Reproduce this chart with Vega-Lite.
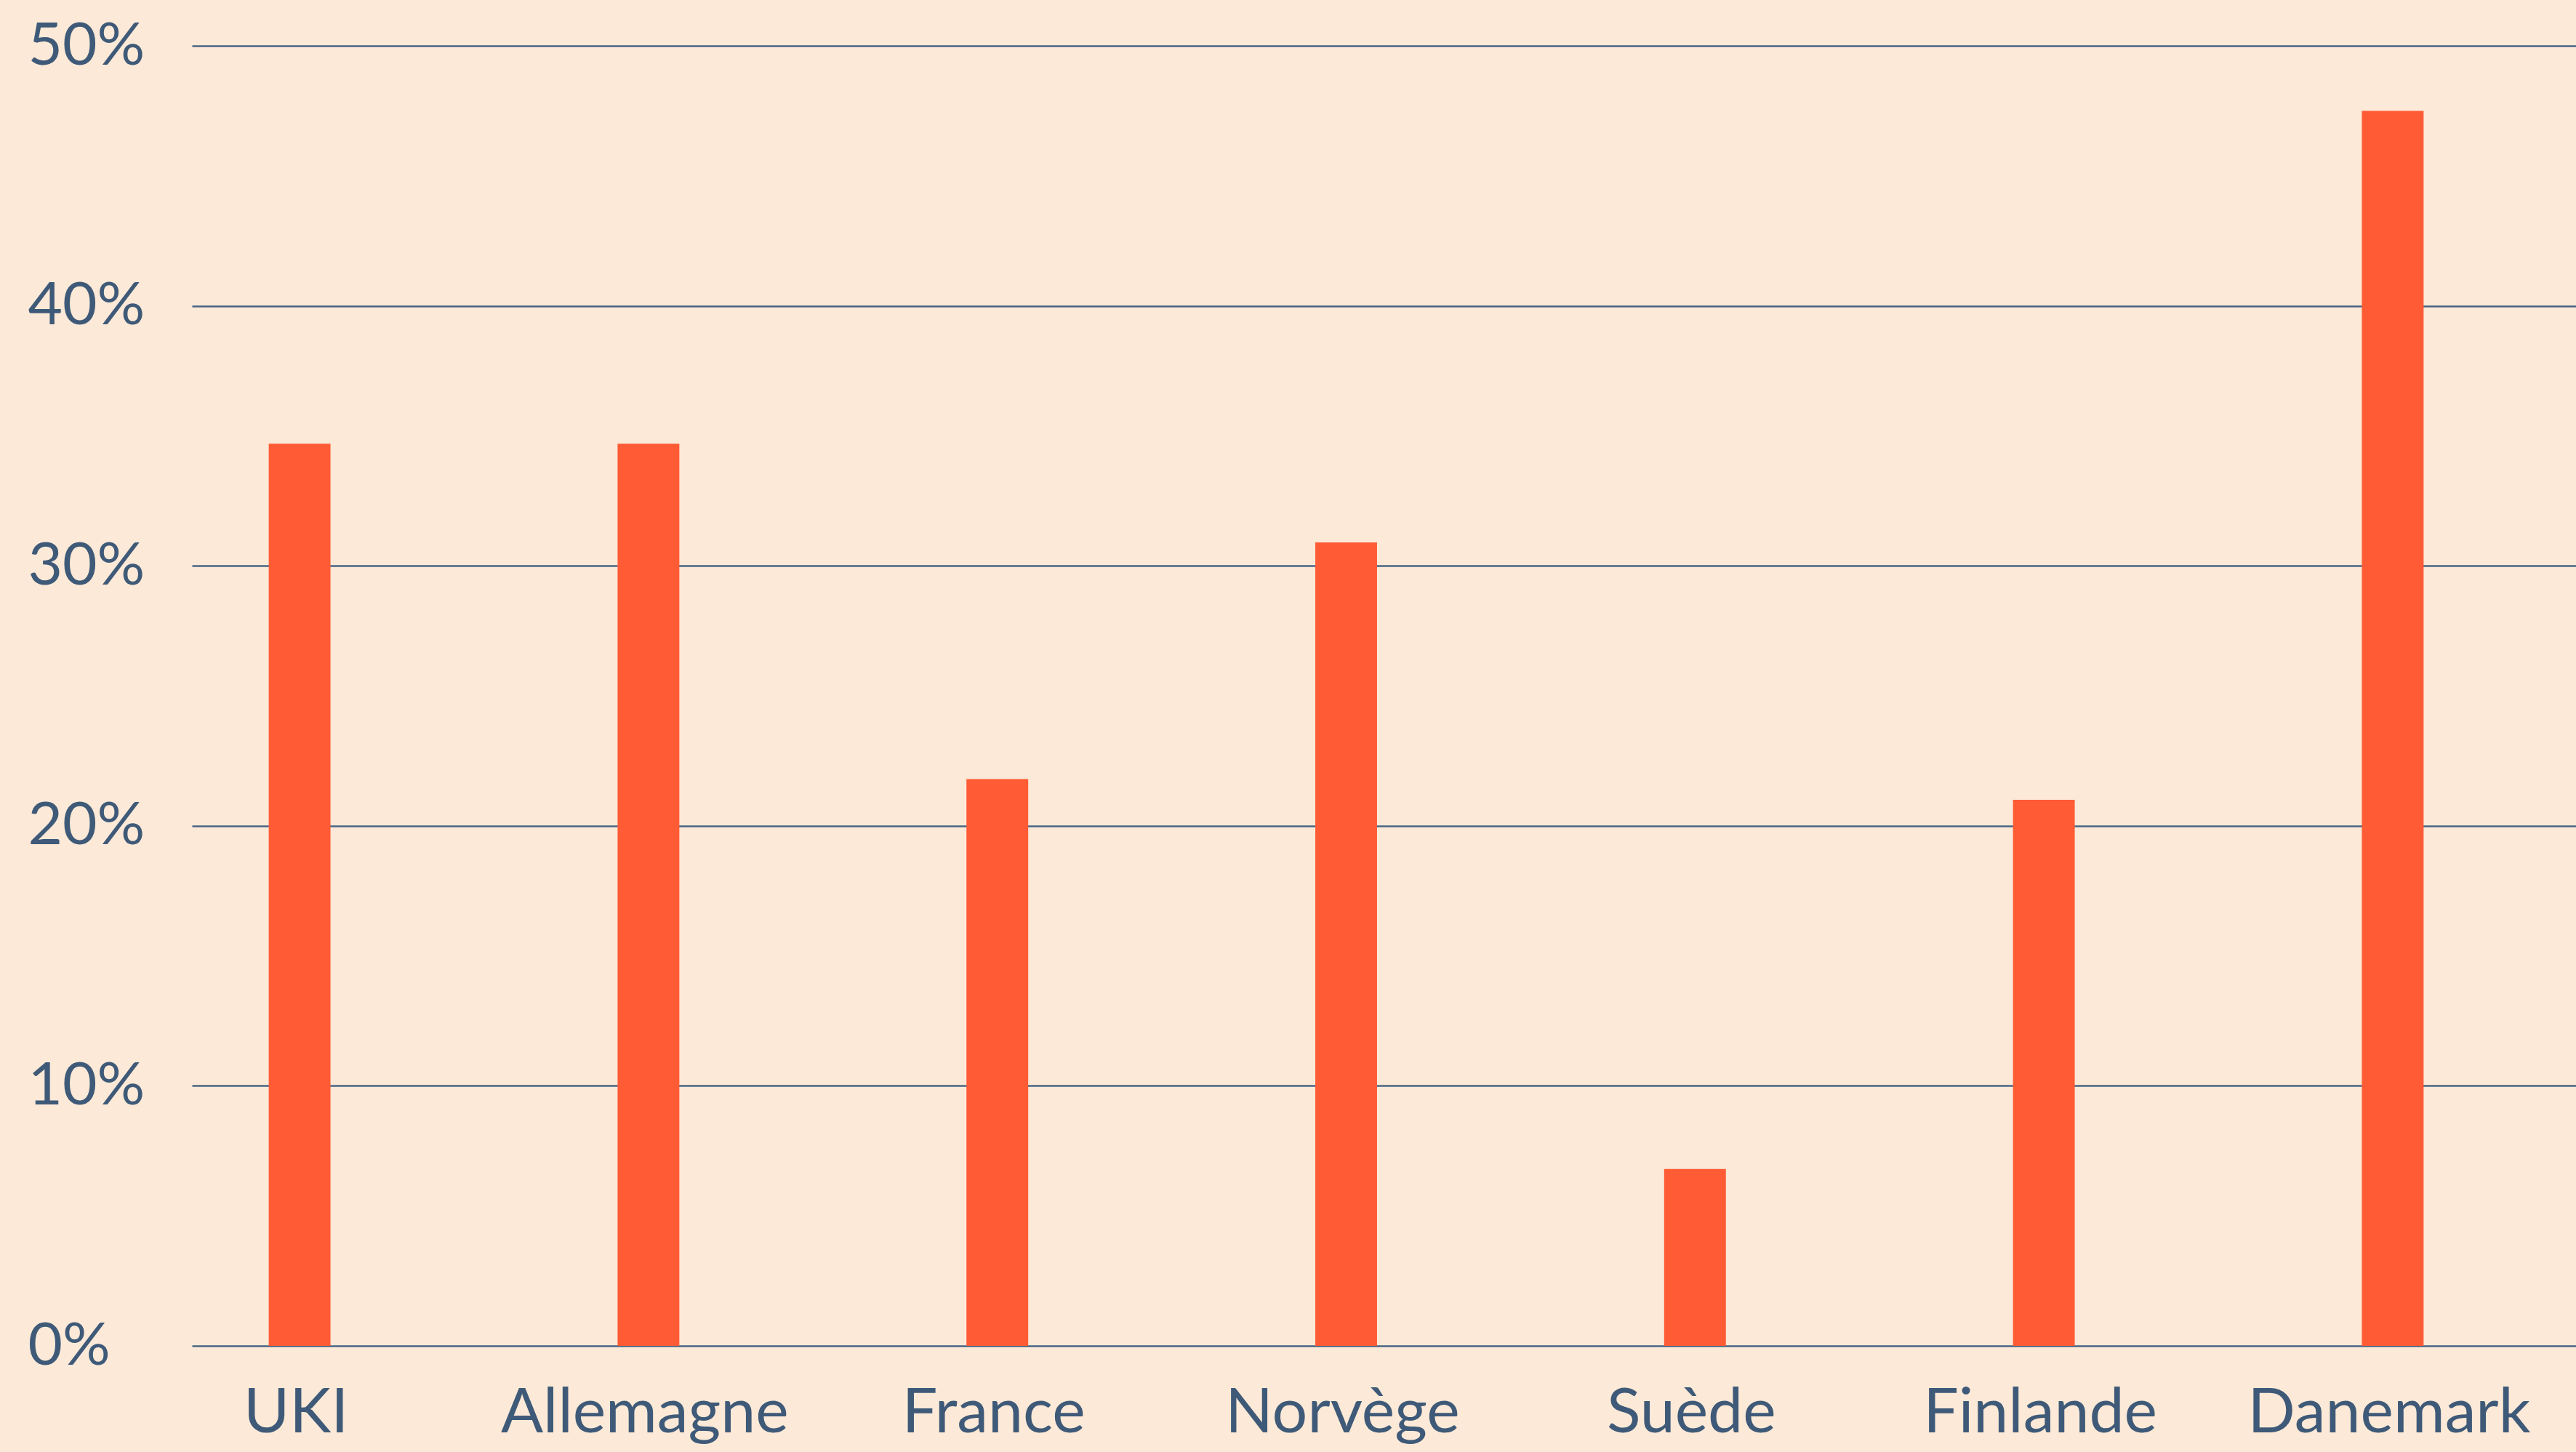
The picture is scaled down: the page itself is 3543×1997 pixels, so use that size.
{
  "$schema": "https://vega.github.io/schema/vega-lite/v6.json",
  "autosize": {"type": "none"},
  "width": 3279,
  "height": 1788,
  "padding": {"left": 264, "top": 63, "right": 0, "bottom": 146},
  "background": "#fce9d7",
  "config": {
    "view": {"stroke": null},
    "font": "Lato"
  },
  "data": {
    "values": [
      {"pays": "UKI", "part": 0.347},
      {"pays": "Allemagne", "part": 0.347},
      {"pays": "France", "part": 0.218},
      {"pays": "Norvège", "part": 0.309},
      {"pays": "Suède", "part": 0.068},
      {"pays": "Finlande", "part": 0.21},
      {"pays": "Danemark", "part": 0.475}
    ]
  },
  "mark": {"type": "bar", "color": "#ff5b35", "xOffset": -52},
  "encoding": {
    "x": {
      "field": "pays",
      "type": "nominal",
      "sort": null,
      "scale": {"paddingInner": 0.823, "paddingOuter": 0.3285},
      "axis": {
        "title": null,
        "domain": false,
        "ticks": false,
        "labelAngle": 0,
        "labelFontSize": 86,
        "labelColor": "#3f5a78",
        "labelPadding": 50,
        "labelOffset": -57,
        "labelLimit": 2000
      }
    },
    "y": {
      "field": "part",
      "type": "quantitative",
      "scale": {"domain": [0, 0.5], "nice": false},
      "axis": {
        "title": null,
        "format": ".0%",
        "values": [0, 0.1, 0.2, 0.3, 0.4, 0.5],
        "domain": false,
        "ticks": false,
        "tickSize": 0,
        "grid": true,
        "gridColor": "#4a6585",
        "gridWidth": 2.5,
        "gridOpacity": 1,
        "labelAlign": "left",
        "labelBaseline": "middle",
        "labelPadding": 226,
        "labelFontSize": 82,
        "labelColor": "#3f5a78"
      }
    }
  }
}
